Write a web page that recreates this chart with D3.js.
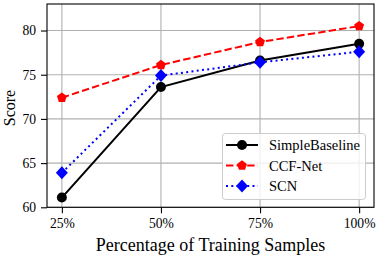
<!DOCTYPE html>
<html><head><meta charset="utf-8">
<script src="https://cdn.jsdelivr.net/npm/d3@7"></script>
<style>body{margin:0;background:#fff}</style>
</head><body>
<svg id="c" width="388" height="262" font-family="Liberation Serif"></svg>
<script>
const categories = ["25%","50%","75%","100%"];
const xValues = [25,50,75,100];
const simpleBaseline = [61.1,73.6,76.6,78.5];
const ccfNet = [72.4,76.1,78.7,80.5];
const scn = [63.9,74.9,76.4,77.6];
const yTicks = [60,65,70,75,80];
const seriesNames = ["SimpleBaseline","CCF-Net","SCN"];

const FONT = "Liberation Serif";
const svg = d3.select("#c");
const L=47, R=374, T=4, B=207.3;
const x = d3.scaleLinear().domain([21.25,103.75]).range([L,R]);
const y = d3.scaleLinear().domain([60,83]).range([B,T]);

// grid
const g = svg.append("g");
g.selectAll(".gx").data(xValues).enter().append("line")
  .attr("x1",d=>x(d)).attr("x2",d=>x(d)).attr("y1",T).attr("y2",B)
  .attr("stroke","#b0b0b0").attr("stroke-width",1.1);
g.selectAll(".gy").data(yTicks).enter().append("line")
  .attr("y1",d=>y(d)).attr("y2",d=>y(d)).attr("x1",L).attr("x2",R)
  .attr("stroke","#b0b0b0").attr("stroke-width",1.1);

const series = [
  {name:seriesNames[0], vals:simpleBaseline, color:"#000000", dash:null, marker:"circle"},
  {name:seriesNames[1], vals:ccfNet, color:"#ff0000", dash:"7.4,3.2", marker:"pentagon"},
  {name:seriesNames[2], vals:scn, color:"#0000ff", dash:"2,3.3", marker:"diamond"}
];

function markerPath(type){
  if(type==="circle") return d3.symbol(d3.symbolCircle, 78)();
  if(type==="diamond"){ return "M0,-6.5L6,0L0,6.5L-6,0Z"; }
  const r=5.2; let p="";
  for(let i=0;i<5;i++){const a=-Math.PI/2+i*2*Math.PI/5; p+=(i?"L":"M")+(r*Math.cos(a)).toFixed(2)+","+(r*Math.sin(a)).toFixed(2);}
  return p+"Z";
}

const line = d3.line().x((d,i)=>x(xValues[i])).y(d=>y(d));
series.forEach(s=>{
  svg.append("path").attr("d",line(s.vals)).attr("fill","none")
    .attr("stroke",s.color).attr("stroke-width",2)
    .attr("stroke-dasharray",s.dash);
  svg.selectAll(null).data(s.vals).enter().append("path")
    .attr("d",markerPath(s.marker))
    .attr("transform",(d,i)=>`translate(${x(xValues[i])},${y(d)})`)
    .attr("fill",s.color);
});

// axes
const xa = svg.append("g").attr("transform",`translate(0,${B})`)
  .call(d3.axisBottom(x).tickValues(xValues).tickFormat((d,i)=>categories[i]).tickSize(6).tickPadding(5));
const ya = svg.append("g").attr("transform",`translate(${L},0)`)
  .call(d3.axisLeft(y).tickValues(yTicks).tickSize(6).tickPadding(5));
[xa,ya].forEach(a=>{
  a.attr("font-family",FONT).attr("font-size",13.6);
  a.select(".domain").remove();
  a.selectAll("line").attr("stroke","#000").attr("stroke-width",1.1);
  a.selectAll("text").attr("font-family",FONT).attr("font-size",13.6).attr("fill","#000");
});
svg.append("rect").attr("x",L).attr("y",T).attr("width",R-L).attr("height",B-T)
  .attr("fill","none").attr("stroke","#000").attr("stroke-width",1.1);

// labels
svg.append("text").attr("x",(L+R)/2).attr("y",251).attr("text-anchor","middle")
  .attr("font-family",FONT).attr("font-size",18).text("Percentage of Training Samples");
svg.append("text").attr("transform",`translate(14.5,108) rotate(-90)`).attr("text-anchor","middle")
  .attr("font-family",FONT).attr("font-size",16).text("Score");

// legend
const lg = svg.append("g");
lg.append("rect").attr("x",222.5).attr("y",133.5).attr("width",143).attr("height",66).attr("rx",3)
  .attr("fill","#fff").attr("fill-opacity",0.8).attr("stroke","#cccccc").attr("stroke-width",1);
series.forEach((s,i)=>{
  const yy = 145 + i*20.5;
  lg.append("line").attr("x1",226).attr("x2",258).attr("y1",yy).attr("y2",yy)
    .attr("stroke",s.color).attr("stroke-width",2).attr("stroke-dasharray",s.dash);
  lg.append("path").attr("d",markerPath(s.marker)).attr("transform",`translate(242,${yy})`).attr("fill",s.color);
  lg.append("text").attr("x",269).attr("y",yy+5).attr("font-family",FONT).attr("font-size",14.5).text(s.name);
});
</script>
</body></html>
